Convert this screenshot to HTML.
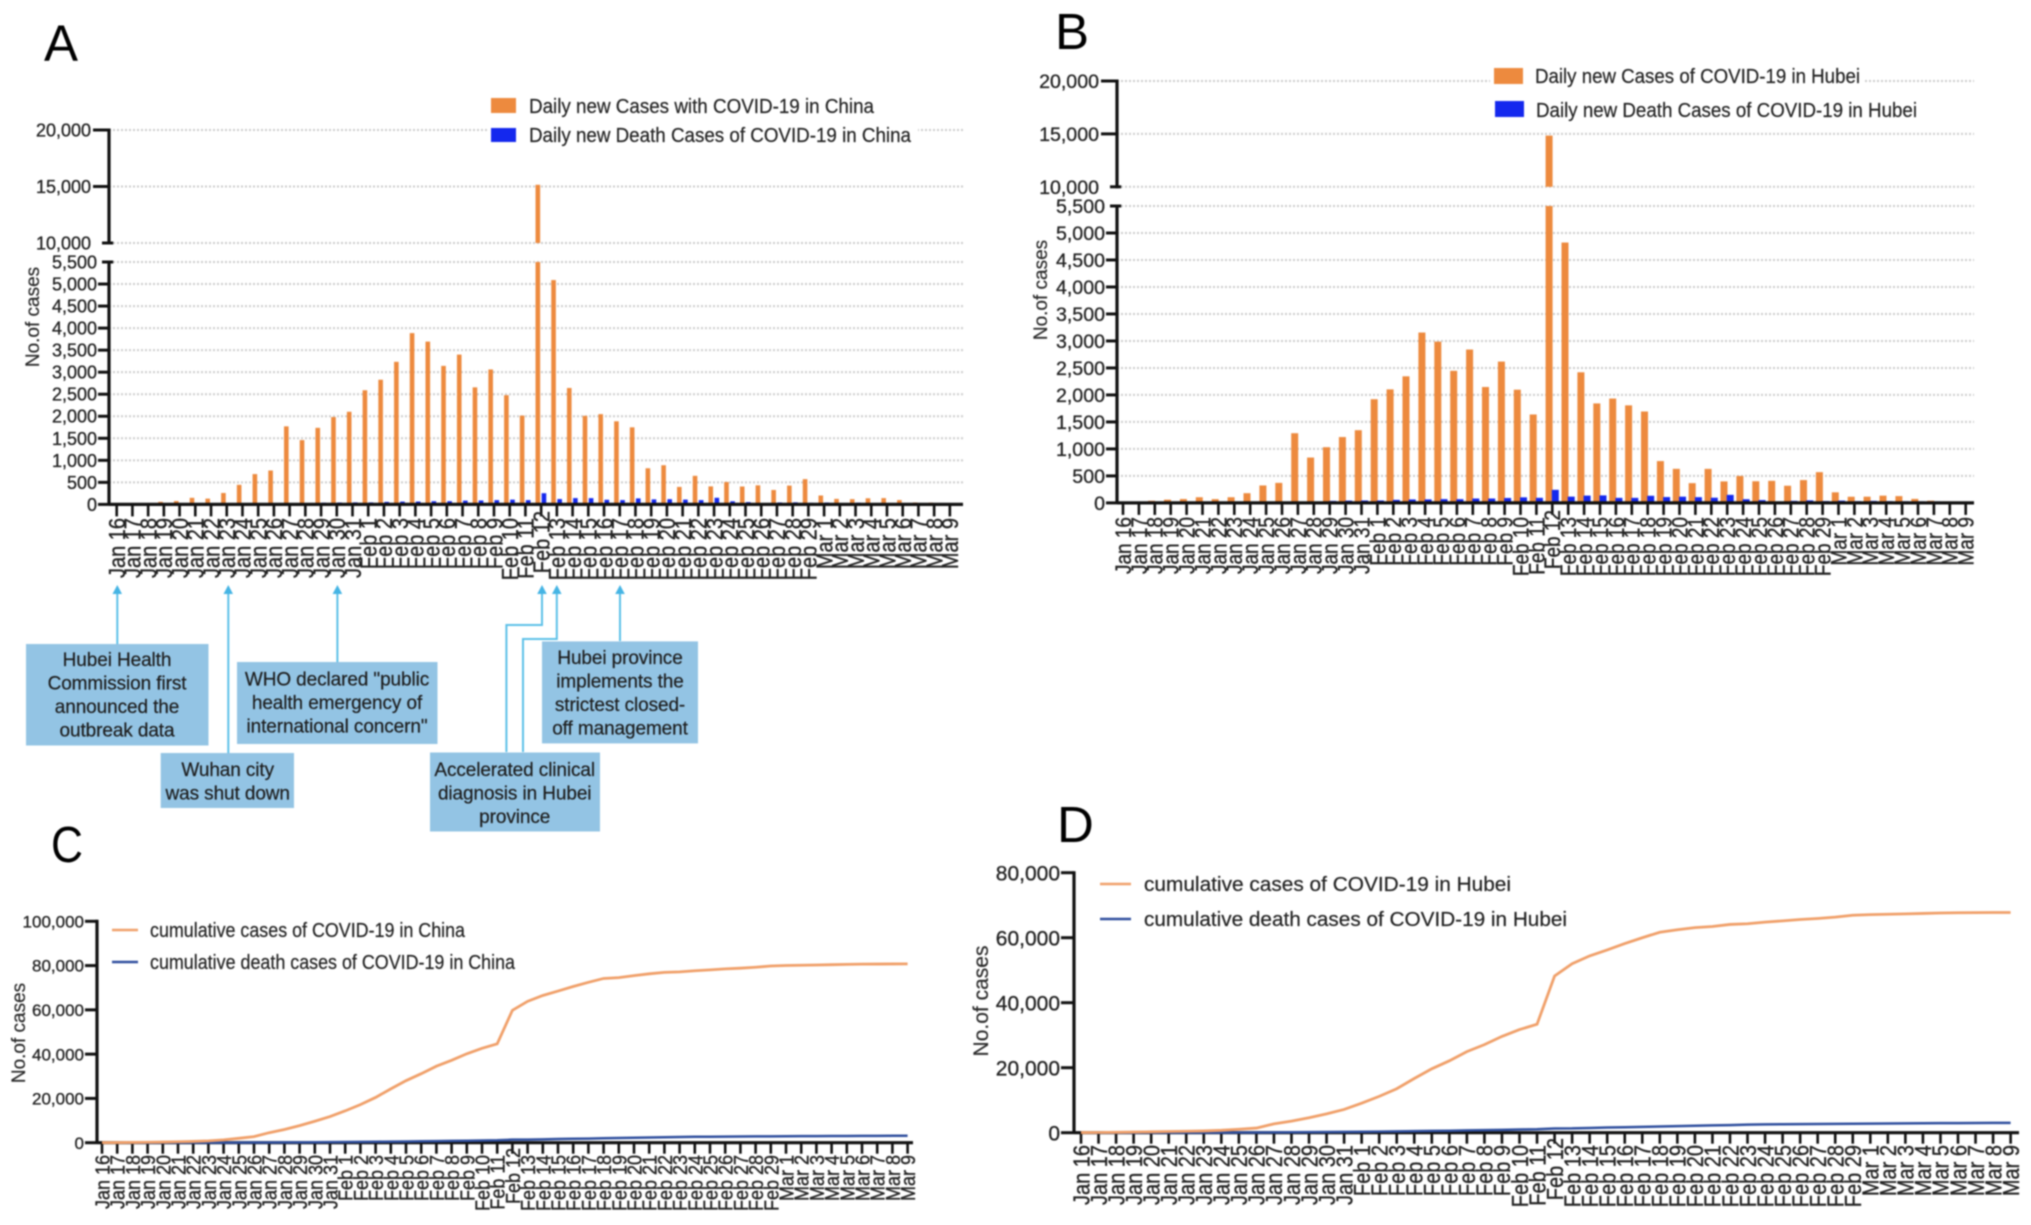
<!DOCTYPE html>
<html lang="en">
<head>
<meta charset="utf-8">
<title>COVID-19 daily and cumulative cases in China and Hubei</title>
<style>
html,body{margin:0;padding:0;background:#fff;width:2031px;height:1225px;overflow:hidden}
svg{display:block;font-family:"Liberation Sans",Arial,sans-serif;filter:blur(0.7px)}
.leg{font-size:20px;fill:#222;stroke:#222;stroke-width:.2px}
.call{font-size:19px;letter-spacing:-.1px;fill:#1c1c1c;stroke:#1c1c1c;stroke-width:.2px;text-anchor:middle}
.letter{font-size:51px;fill:#000}
.ytitle{font-size:19px;fill:#2a2a2a;stroke:#2a2a2a;stroke-width:.2px;text-anchor:middle}
.axis-text{stroke:#222;stroke-width:.3px}
.arrow{stroke:#5cc0e8;stroke-width:2;fill:none}
.head{fill:#45b4e4}
</style>
</head>
<body>
<svg id="fig" xmlns="http://www.w3.org/2000/svg" width="2031" height="1225" viewBox="0 0 2031 1225">
  <rect x="0" y="0" width="2031" height="1225" fill="#fff"/>
  <g id="charts"></g>

  <text class="letter" x="44" y="61">A</text>
  <text class="letter" x="1055" y="49">B</text>
  <text class="letter" x="51" y="862" textLength="32" lengthAdjust="spacingAndGlyphs">C</text>
  <text class="letter" x="1057" y="842">D</text>

  <g>
    <rect x="491" y="98" width="25" height="15" fill="#ed8a3e"/>
    <text class="leg" x="529" y="113" textLength="345" lengthAdjust="spacingAndGlyphs">Daily new Cases with COVID-19 in China</text>
    <rect x="488" y="126" width="430" height="20" fill="#fff"/>
    <rect x="491" y="128" width="25" height="14" fill="#1428ee"/>
    <text class="leg" x="529" y="142" textLength="382" lengthAdjust="spacingAndGlyphs">Daily new Death Cases of COVID-19 in China</text>
  </g>
  <g>
    <rect x="1490" y="66" width="375" height="20" fill="#fff"/>
    <rect x="1494" y="68" width="29" height="16" fill="#ed8a3e"/>
    <text class="leg" x="1535" y="83" textLength="325" lengthAdjust="spacingAndGlyphs">Daily new Cases of COVID-19 in Hubei</text>
    <rect x="1495" y="101" width="29" height="16" fill="#1428ee"/>
    <text class="leg" x="1536" y="117" textLength="381" lengthAdjust="spacingAndGlyphs">Daily new Death Cases of COVID-19 in Hubei</text>
  </g>
  <g>
    <line x1="112" y1="930" x2="138" y2="930" stroke="#f0a06a" stroke-width="2.5"/>
    <text class="leg" x="150" y="937" textLength="315" lengthAdjust="spacingAndGlyphs">cumulative cases of COVID-19 in China</text>
    <line x1="112" y1="962" x2="138" y2="962" stroke="#2f4f9e" stroke-width="2.5"/>
    <text class="leg" x="150" y="969" textLength="365" lengthAdjust="spacingAndGlyphs">cumulative death cases of COVID-19 in China</text>
  </g>
  <g>
    <line x1="1100" y1="884" x2="1131" y2="884" stroke="#f0a06a" stroke-width="2.5"/>
    <text class="leg" x="1144" y="891" textLength="367" lengthAdjust="spacingAndGlyphs">cumulative cases of COVID-19 in Hubei</text>
    <line x1="1100" y1="919" x2="1131" y2="919" stroke="#2f4f9e" stroke-width="2.5"/>
    <text class="leg" x="1144" y="926" textLength="423" lengthAdjust="spacingAndGlyphs">cumulative death cases of COVID-19 in Hubei</text>
  </g>

  <text class="ytitle" transform="translate(39,317) rotate(-90)">No.of cases</text>
  <text class="ytitle" transform="translate(1047,290) rotate(-90)">No.of cases</text>
  <text class="ytitle" transform="translate(25,1033) rotate(-90)">No.of cases</text>
  <text class="ytitle" style="font-size:21px" transform="translate(988,1001) rotate(-90)">No.of cases</text>

  <g>
    <path class="arrow" d="M117.3 592V644"/>
    <polygon class="head" points="117.3,585 112.5,594 122,594"/>
    <path class="arrow" d="M228.3 592V753"/>
    <polygon class="head" points="228.3,585 223.5,594 233,594"/>
    <path class="arrow" d="M337.4 592V662"/>
    <polygon class="head" points="337.4,585 332.6,594 342.2,594"/>
    <path class="arrow" d="M542 592V625H506.4V752"/>
    <polygon class="head" points="542,585 537.2,594 546.8,594"/>
    <path class="arrow" d="M556.8 592V639H523V752"/>
    <polygon class="head" points="556.8,585 552,594 561.6,594"/>
    <path class="arrow" d="M620 592V641"/>
    <polygon class="head" points="620,585 615.2,594 624.8,594"/>
  </g>

  <g>
    <rect x="26" y="644" width="182.5" height="101.5" fill="#93c4e4"/>
    <text class="call" x="117"><tspan x="117" y="666">Hubei Health</tspan><tspan x="117" y="689.5">Commission first</tspan><tspan x="117" y="713">announced the</tspan><tspan x="117" y="736.5">outbreak data</tspan></text>
  </g>
  <g>
    <rect x="160.7" y="753" width="133.3" height="55" fill="#93c4e4"/>
    <text class="call" x="227.7"><tspan x="227.7" y="776">Wuhan city</tspan><tspan x="227.7" y="799.5">was shut down</tspan></text>
  </g>
  <g>
    <rect x="237" y="662" width="200.5" height="82" fill="#93c4e4"/>
    <text class="call" x="337"><tspan x="337" y="685.5">WHO declared "public</tspan><tspan x="337" y="709">health emergency of</tspan><tspan x="337" y="732.5">international concern"</tspan></text>
  </g>
  <g>
    <rect x="430" y="752.5" width="170" height="79" fill="#93c4e4"/>
    <text class="call" x="514.7"><tspan x="514.7" y="776">Accelerated clinical</tspan><tspan x="514.7" y="799.5">diagnosis in Hubei</tspan><tspan x="514.7" y="823">province</tspan></text>
  </g>
  <g>
    <rect x="542" y="641.4" width="156" height="102" fill="#93c4e4"/>
    <text class="call" x="620"><tspan x="620" y="664">Hubei province</tspan><tspan x="620" y="687.5">implements the</tspan><tspan x="620" y="711">strictest closed-</tspan><tspan x="620" y="734.5">off management</tspan></text>
  </g>
</svg>

<script>
const dates = ["Jan 16","Jan 17","Jan 18","Jan 19","Jan 20","Jan 21","Jan 22","Jan 23","Jan 24","Jan 25","Jan 26","Jan 27","Jan 28","Jan 29","Jan 30","Jan 31","Feb 1","Feb 2","Feb 3","Feb 4","Feb 5","Feb 6","Feb 7","Feb 8","Feb 9","Feb 10","Feb 11","Feb 12","Feb 13","Feb 14","Feb 15","Feb 16","Feb 17","Feb 18","Feb 19","Feb 20","Feb 21","Feb 22","Feb 23","Feb 24","Feb 25","Feb 26","Feb 27","Feb 28","Feb 29","Mar 1","Mar 2","Mar 3","Mar 4","Mar 5","Mar 6","Mar 7","Mar 8","Mar 9"];

const chinaNew = [0,4,17,59,77,149,131,259,444,688,769,1771,1459,1737,1982,2102,2590,2829,3235,3887,3694,3143,3399,2656,3062,2478,2015,15152,5090,2641,2009,2048,1886,1749,820,889,397,648,409,508,406,433,327,427,573,202,125,119,139,143,99,44,40,19];
const chinaDeath = [0,0,0,1,3,3,8,8,16,15,24,26,26,38,43,46,45,57,64,65,73,73,86,89,97,108,97,254,121,143,142,105,98,136,114,118,109,97,150,71,52,29,44,47,35,42,31,38,31,30,28,27,22,17];
const hubeiNew = [0,0,40,60,72,105,70,105,180,323,371,1291,840,1032,1220,1347,1921,2103,2345,3156,2987,2447,2841,2147,2618,2097,1638,14840,4823,2420,1843,1933,1807,1693,775,631,366,630,398,499,401,409,318,423,570,196,114,115,134,126,74,41,27,13];
const hubeiDeath = [0,0,0,1,3,3,8,7,15,13,24,24,25,37,42,45,45,56,64,65,70,69,81,81,91,103,94,242,116,135,139,93,93,132,108,115,106,96,149,68,52,26,38,47,34,42,31,37,31,29,28,27,22,16];

const chinaCum = [45,62,121,198,291,440,571,830,1287,1975,2744,4515,5974,7711,9692,11791,14380,17205,20438,24324,28018,31161,34546,37198,40171,42638,44653,59804,63851,66492,68500,70548,72436,74185,74576,75465,76288,76936,77150,77658,78064,78497,78824,79251,79824,80026,80151,80270,80409,80552,80651,80695,80735,80754];
const chinaCumDeath = [2,2,2,3,6,9,17,25,41,56,80,106,132,170,213,259,304,361,425,490,563,636,722,811,908,1016,1113,1367,1380,1523,1665,1770,1868,2004,2118,2236,2345,2442,2592,2663,2715,2744,2788,2835,2870,2912,2943,2981,3012,3042,3070,3097,3119,3136];
const hubeiCum = [45,62,121,198,270,375,444,549,729,1052,1423,2714,3554,4586,5806,7153,9074,11177,13522,16678,19665,22112,24953,27100,29631,31728,33366,48206,51986,54406,56249,58182,59989,61682,62457,63088,63454,64084,64287,64786,65187,65596,65914,66337,66907,67103,67217,67332,67466,67592,67666,67707,67743,67760];
const hubeiCumDeath = [2,2,2,3,6,9,17,24,39,52,76,100,125,162,204,249,294,350,414,479,549,618,699,780,871,974,1068,1310,1318,1457,1596,1696,1789,1921,2029,2144,2250,2346,2495,2563,2615,2641,2682,2727,2761,2803,2834,2871,2902,2931,2959,2986,3008,3024];

const brokenLowerTicks = [0,500,1000,1500,2000,2500,3000,3500,4000,4500,5000,5500];
const brokenUpperTicks = [10000,15000,20000];
const chinaLineTicks = [0,20000,40000,60000,80000,100000];
const hubeiLineTicks = [0,20000,40000,60000,80000];

const NS = 'http://www.w3.org/2000/svg';
const fig = document.getElementById('charts');

function make(tag, parent, attrs) {
  const el = document.createElementNS(NS, tag);
  for (const k in attrs) el.setAttribute(k, attrs[k]);
  parent.appendChild(el);
  return el;
}
function fmt(v) { return v.toLocaleString('en-US'); }

function drawXAxis(group, c, prefix) {
  const axis = make('line', group, {x1: c.axisX, y1: c.y0, x2: c.xEnd, y2: c.y0, stroke: '#111', 'stroke-width': 3.2});
  
  
  dates.forEach(function (d, i) {
    const x = c.x0 + i * c.dx;
    const t = make('line', group, {x1: x, y1: c.y0, x2: x, y2: c.y0 + c.tickLen, stroke: '#111', 'stroke-width': 2.6});
    
    
    const shift = i === 27 ? c.labelTop - 7 : c.labelTop;
    const lab = make('text', group, {class: 'axis-text', transform: 'translate(' + x + ',' + shift + ') rotate(-90) scale(1,1.15)', 'text-anchor': 'end', dy: '.36em', 'font-size': c.labelSize, fill: '#222'});
    lab.textContent = d;
    
    
  });
}

function drawYTick(group, c, prefix, v, y, right, tickStart, capRight) {
  const t = make('line', group, {x1: tickStart, y1: y, x2: capRight, y2: y, stroke: '#111', 'stroke-width': 3});
  
  
  const lab = make('text', group, {class: 'axis-text', x: right, y: y, dy: '.36em', 'text-anchor': 'end', 'font-size': c.valueSize, fill: '#222'});
  lab.textContent = fmt(v);
  
  
}

function grid(g, c, prefix, y) {
  const l = make('line', g, {x1: c.axisX, y1: y, x2: c.gridEnd, y2: y, stroke: '#cccccc', 'stroke-width': 2, 'stroke-dasharray': '2 2'});
  
  
}

function brokenChart(prefix, c, newVals, deathVals) {
  const g = make('g', fig, {});
  
  
  const lowerY = function (v) { return c.y0 - (v / 5500) * (c.y0 - c.y5500); };
  const upperY = function (v) { return c.y10k - ((v - 10000) / 10000) * (c.y10k - c.y20k); };

  brokenLowerTicks.slice(1).forEach(function (v) { grid(g, c, prefix, lowerY(v)); });
  brokenUpperTicks.forEach(function (v) { grid(g, c, prefix, upperY(v)); });

  const seg1 = make('line', g, {x1: c.axisX, y1: c.y20k - 1.5, x2: c.axisX, y2: c.y10k + 1.5, stroke: '#111', 'stroke-width': 3.2});
  
  
  const seg2 = make('line', g, {x1: c.axisX, y1: c.y5500 - 1.5, x2: c.axisX, y2: c.y0, stroke: '#111', 'stroke-width': 3.2});
  
  

  brokenUpperTicks.forEach(function (v) {
    drawYTick(g, c, prefix, v, upperY(v), c.upperRight, v === 10000 ? c.axisX - c.capLen : c.upperRight + 2, v === 10000 ? c.axisX + c.capLen * 0.6 : c.axisX);
  });
  brokenLowerTicks.forEach(function (v) {
    drawYTick(g, c, prefix, v, lowerY(v), c.lowerRight, v === 5500 ? c.axisX - c.capLen : c.lowerRight + 1, v === 5500 ? c.axisX + c.capLen * 0.6 : c.axisX);
  });

  newVals.forEach(function (v, i) {
    const x = c.x0 + i * c.dx + c.newOffset - c.barW / 2;
    const top = lowerY(Math.min(v, 5500));
    const b = make('rect', g, {x: x, y: top, width: c.barW, height: Math.max(c.y0 - top, 0), fill: '#ed8a3e'});
    
    
    if (v > 10000) {
      const ut = upperY(v);
      const u = make('rect', g, {x: x, y: ut, width: c.barW, height: c.y10k - ut, fill: '#ed8a3e'});
      
      
    }
  });
  deathVals.forEach(function (v, i) {
    const x = c.x0 + i * c.dx + c.deathOffset - c.barW / 2;
    const top = lowerY(v);
    const b = make('rect', g, {x: x, y: top, width: c.barW, height: Math.max(c.y0 - top, 0), fill: '#1428ee'});
    
    
  });
  drawXAxis(g, c, prefix);
}

function lineChart(prefix, c, ticks, caseVals, deathVals) {
  const g = make('g', fig, {});
  
  
  const maxV = ticks[ticks.length - 1];
  const yS = function (v) { return c.y0 - (v / maxV) * (c.y0 - c.yTop); };
  const xS = function (i) { return c.x0 + i * c.dx; };

  const axis = make('line', g, {x1: c.axisX, y1: c.yTop - 1.5, x2: c.axisX, y2: c.y0, stroke: '#111', 'stroke-width': 3.2});
  
  
  ticks.forEach(function (v) {
    drawYTick(g, c, prefix, v, yS(v), c.valueRight, c.valueRight + 1, c.axisX);
  });
  drawXAxis(g, c, prefix);

  const deathLine = make('polyline', g, {points: deathVals.map(function (v, i) { return xS(i) + ',' + yS(v); }).join(' '), fill: 'none', stroke: '#2f4f9e', 'stroke-width': 2.5});
  
  
  const caseLine = make('polyline', g, {points: caseVals.map(function (v, i) { return xS(i) + ',' + yS(v); }).join(' '), fill: 'none', stroke: '#f0a06a', 'stroke-width': 2.8});
  
  
}

brokenChart('china-daily', {axisX:109, gridEnd:963, xEnd:963, x0:116.7, dx:15.72, y0:504.4, y5500:262, y10k:243, y20k:130, tickLen:12, labelTop:518, labelSize:20, valueSize:18, upperRight:91, lowerRight:97, capLen:7, barW:4.6, newOffset:-3.3, deathOffset:2.8}, chinaNew, chinaDeath);
brokenChart('hubei-daily', {axisX:1117, gridEnd:1974, xEnd:1974, x0:1123, dx:15.9, y0:502.9, y5500:206, y10k:186.8, y20k:81, tickLen:12, labelTop:517, labelSize:19, valueSize:19.6, upperRight:1099, lowerRight:1105, capLen:7, barW:7, newOffset:-3.2, deathOffset:3}, hubeiNew, hubeiDeath);
lineChart('china-cumulative', {axisX:97, xEnd:913, x0:102, dx:15.2, y0:1142.7, yTop:921.3, tickLen:11, labelTop:1155, labelSize:18, valueSize:17, valueRight:84}, chinaLineTicks, chinaCum, chinaCumDeath);
lineChart('hubei-cumulative', {axisX:1074, xEnd:2019, x0:1081, dx:17.54, y0:1132.7, yTop:872.7, tickLen:11, labelTop:1145, labelSize:20, valueSize:21, valueRight:1060}, hubeiLineTicks, hubeiCum, hubeiCumDeath);
</script>
</body>
</html>
